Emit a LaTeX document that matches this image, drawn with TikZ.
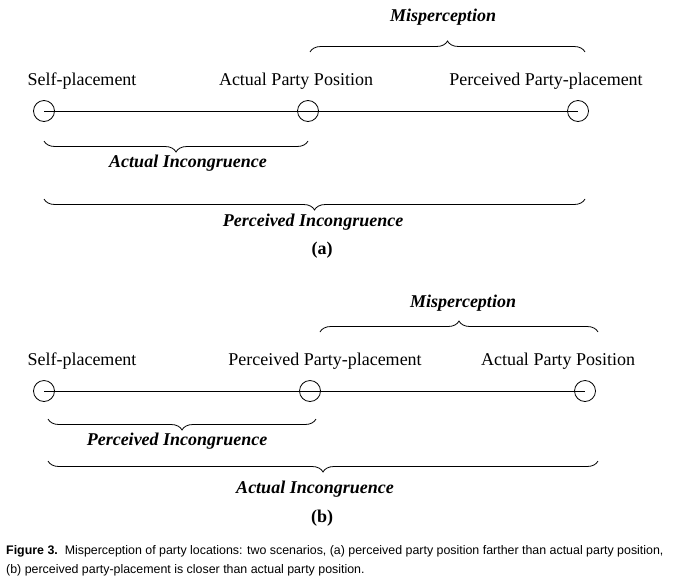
\documentclass[tikz,border=0pt]{standalone}
\usepackage{fontspec}
\setmainfont{Liberation Serif}
\newfontfamily\capfont{Liberation Sans}
\usetikzlibrary{decorations.pathreplacing}
\begin{document}
\begin{tikzpicture}[x=1pt,y=-1pt,
  pt/.style={circle,draw,line width=0.8pt,minimum size=21pt,inner sep=0pt},
  lbl/.style={font=\fontsize{18}{20}\selectfont},
  blbl/.style={font=\fontsize{18}{20}\selectfont\bfseries\itshape},
  brup/.style={decorate,decoration={brace,amplitude=11pt},line width=0.8pt},
  brdn/.style={decorate,decoration={brace,amplitude=11pt,mirror},line width=0.8pt}]
\useasboundingbox (0,0) rectangle (676,581);
% (a)
\node[pt] (a1) at (44,111) {};
\node[pt] (a2) at (308,111) {};
\node[pt] (a3) at (578,111) {};
\draw[line width=0.8pt] (a1.center) -- (a3.center);
\node[lbl] (la1) at (82,81) {Self-placement};
\node[lbl] (la2) at (296,81) {Actual Party Position};
\node[lbl] (la3) at (546,81) {Perceived Party-placement};
\coordinate (am1) at (310,52); \coordinate (am2) at (585,52);
\draw[brup] (am1) -- (am2);
\node[blbl] (lam) at (443,17) {Misperception};
\coordinate (ab1) at (44,141); \coordinate (ab2) at (308,141);
\draw[brdn] (ab1) -- (ab2);
\node[blbl] (lab) at (188,163) {Actual Incongruence};
\coordinate (ac1) at (44,199); \coordinate (ac2) at (585,199);
\draw[brdn] (ac1) -- (ac2);
\node[blbl] (lac) at (313,222) {Perceived Incongruence};
\node[font=\fontsize{18}{20}\selectfont\bfseries] (ta) at (322,250) {(a)};
% (b)
\node[pt] (b1) at (44,391) {};
\node[pt] (b2) at (310,391) {};
\node[pt] (b3) at (585,391) {};
\draw[line width=0.8pt] (b1.center) -- (b3.center);
\node[lbl] (lb1) at (82,361) {Self-placement};
\node[lbl] (lb2) at (325,361) {Perceived Party-placement};
\node[lbl] (lb3) at (558,361) {Actual Party Position};
\coordinate (bm1) at (320,332); \coordinate (bm2) at (598,332);
\draw[brup] (bm1) -- (bm2);
\node[blbl] (lbm) at (463,303) {Misperception};
\coordinate (bb1) at (48,419); \coordinate (bb2) at (316,419);
\draw[brdn] (bb1) -- (bb2);
\node[blbl] (lbb) at (177,441) {Perceived Incongruence};
\coordinate (bc1) at (48,461); \coordinate (bc2) at (598,461);
\draw[brdn] (bc1) -- (bc2);
\node[blbl] (lbc) at (315,489) {Actual Incongruence};
\node[font=\fontsize{18}{20}\selectfont\bfseries] (tb) at (322,518) {(b)};
% caption
\node[anchor=north west,inner sep=0pt,align=left,font=\capfont\fontsize{12.4}{19}\selectfont] (cap) at (6,545)
 {\textbf{Figure 3.}\ \ Misperception of party locations: two scenarios, (a) perceived party position farther than actual party position,\\
 (b) perceived party-placement is closer than actual party position.};
\end{tikzpicture}
\end{document}
